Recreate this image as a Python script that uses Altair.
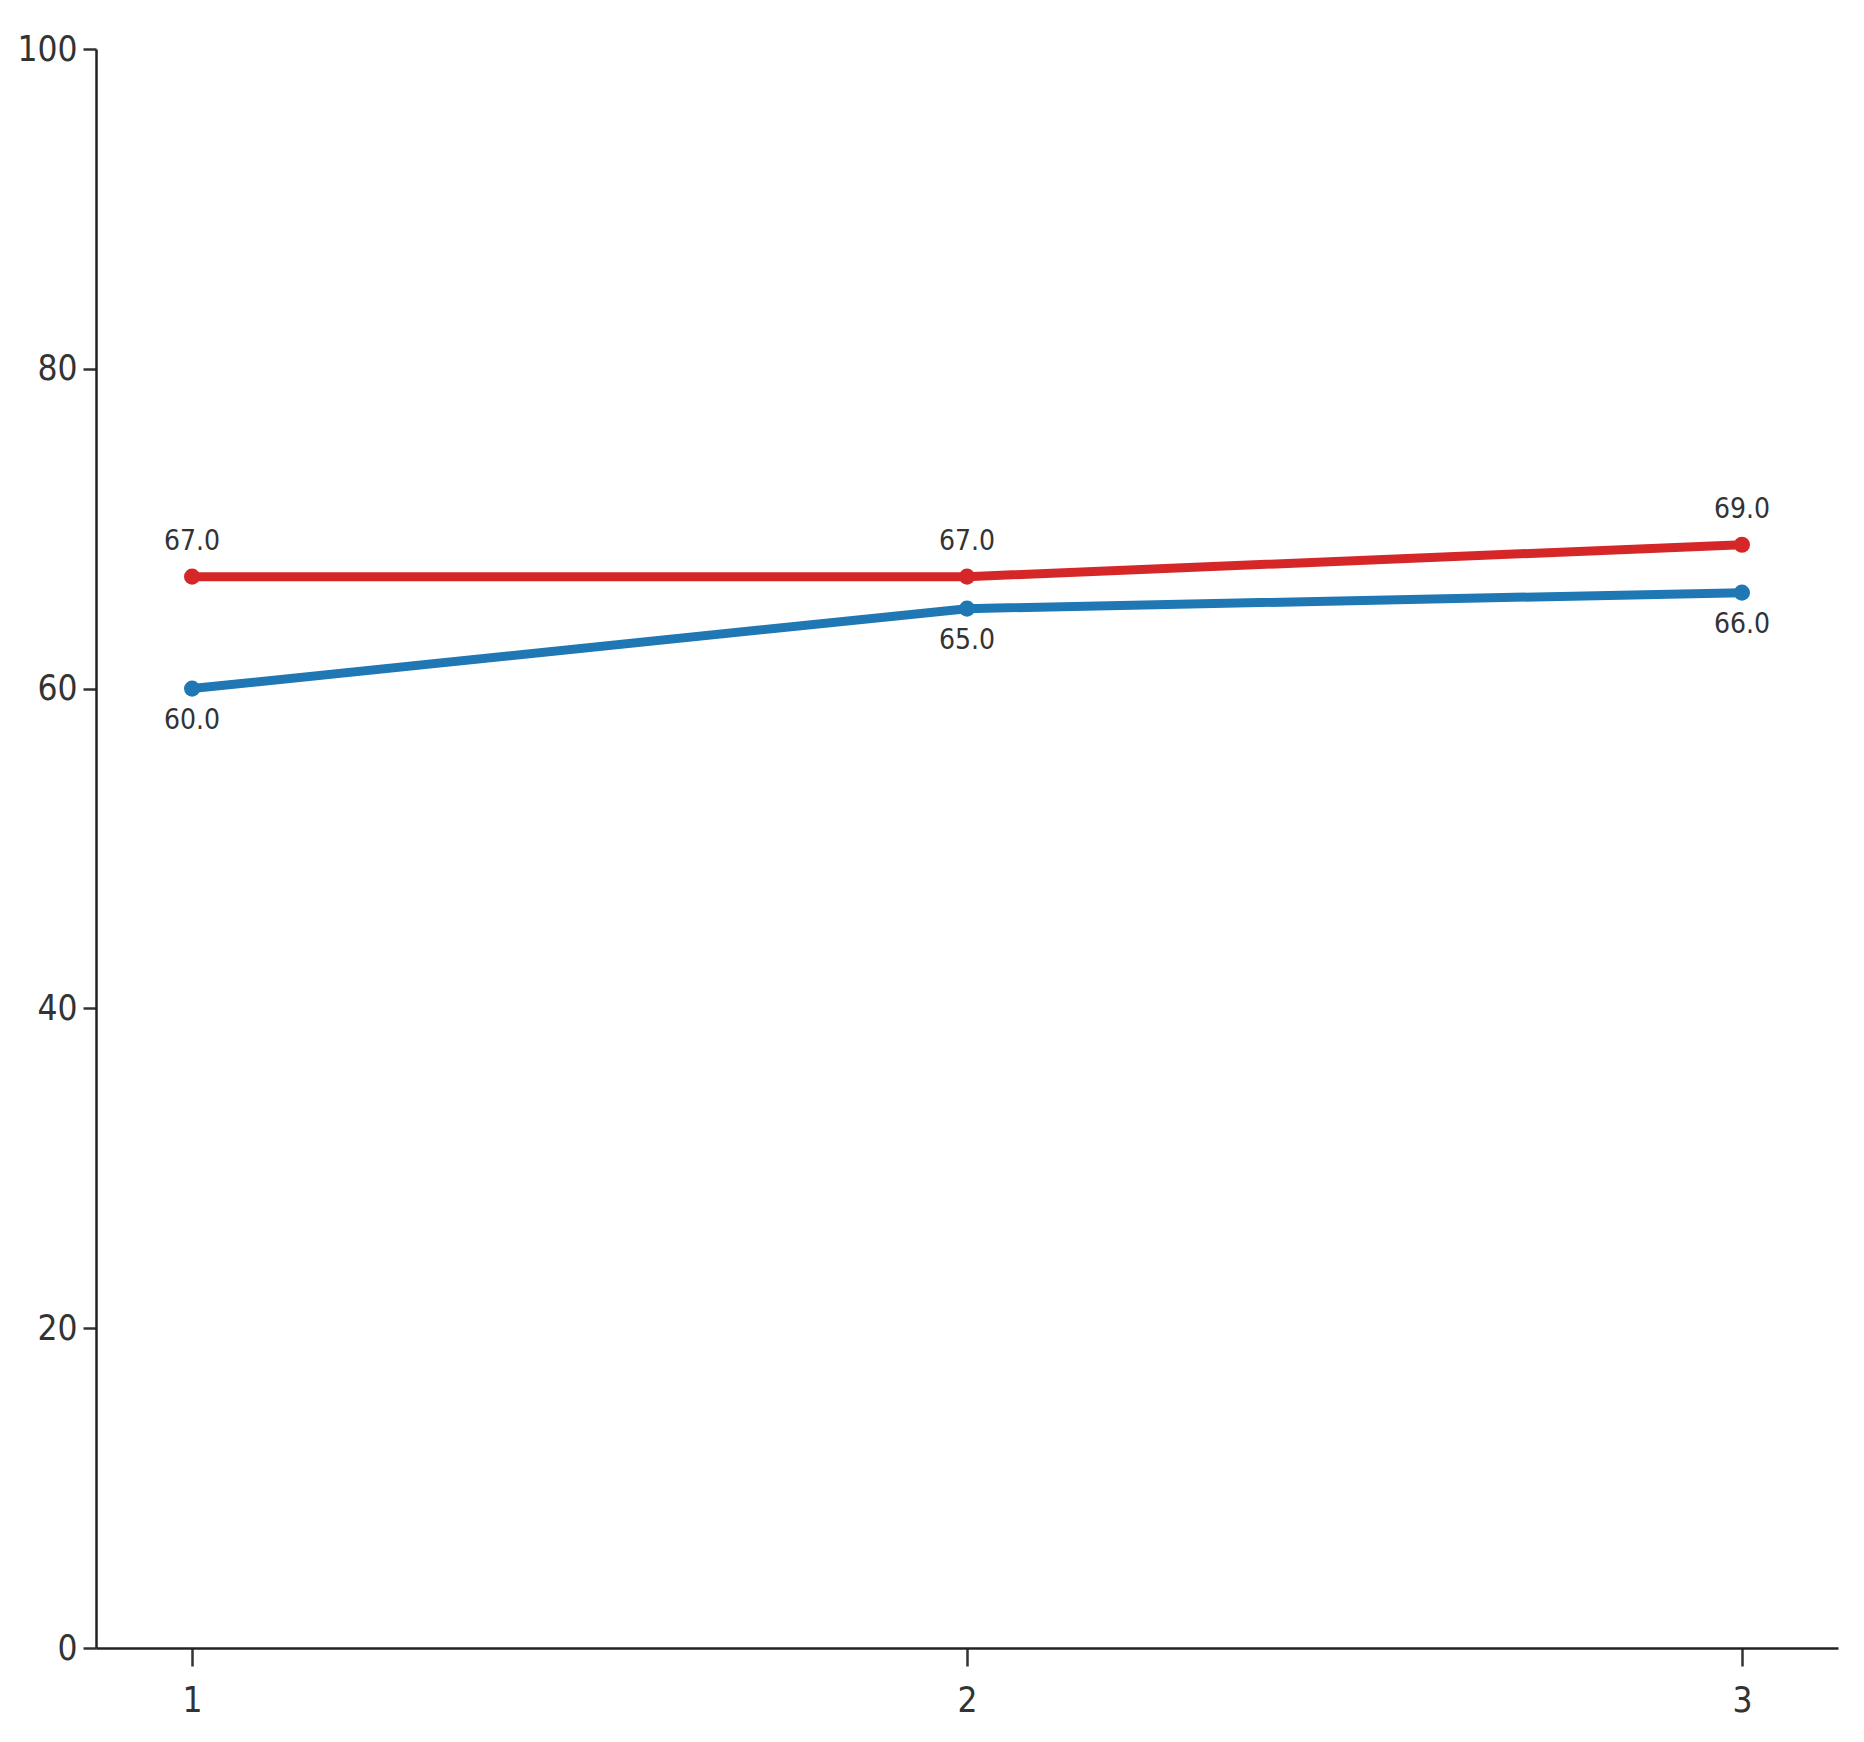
import altair as alt
import pandas as pd

x_vals = [1, 2, 3]
red_vals = [67.0, 67.0, 69.0]
blue_vals = [60.0, 65.0, 66.0]
series_names = ["red", "blue"]
series_colors = ["#d62728", "#1f77b4"]

rows = []
for x, v in zip(x_vals, red_vals):
    rows.append({"x": x, "value": v, "series": "red"})
for x, v in zip(x_vals, blue_vals):
    rows.append({"x": x, "value": v, "series": "blue"})
df = pd.DataFrame(rows)

FONT = "DejaVu Sans Condensed, Roboto, sans-serif"

xenc = alt.X("x:O", scale=alt.Scale(padding=0.124),
             axis=alt.Axis(title=None, labelAngle=0, labelFontSize=35, labelFont=FONT,
                           labelColor="#333", tickSize=18, tickWidth=2.5, tickColor="#333",
                           domainColor="#222", domainWidth=2.5, labelPadding=17, grid=False))
yenc = alt.Y("value:Q", scale=alt.Scale(domain=[0, 100], nice=False, zero=True),
             axis=alt.Axis(title=None, values=[0, 20, 40, 60, 80, 100], labelFontSize=35,
                           labelFont=FONT, labelColor="#333", tickSize=13, tickWidth=2.5,
                           tickColor="#333", domainColor="#222", domainWidth=2.5,
                           labelPadding=6, grid=False))
color = alt.Color("series:N", scale=alt.Scale(domain=series_names, range=series_colors), legend=None)

base = alt.Chart(df).encode(x=xenc, y=yenc, color=color)

lines = base.mark_line(strokeWidth=9, point=alt.OverlayMarkDef(size=260, filled=True, opacity=1))

red_labels = alt.Chart(df).transform_filter(alt.datum.series == "red").mark_text(
    dy=-35, fontSize=28, font=FONT, color="#333").encode(
    x=alt.X("x:O"), y=alt.Y("value:Q"), text=alt.Text("value:Q", format=".1f"))
blue_labels = alt.Chart(df).transform_filter(alt.datum.series == "blue").mark_text(
    dy=32, fontSize=28, font=FONT, color="#333").encode(
    x=alt.X("x:O"), y=alt.Y("value:Q"), text=alt.Text("value:Q", format=".1f"))

chart = alt.layer(lines, red_labels, blue_labels).properties(
    width=1742, height=1599,
    autosize=alt.AutoSizeParams(type="none"),
    padding={"left": 88, "top": 41, "right": 10, "bottom": 70},
).configure_view(stroke=None)

chart.save("out.html", embed_options={"renderer": "svg", "actions": False})
